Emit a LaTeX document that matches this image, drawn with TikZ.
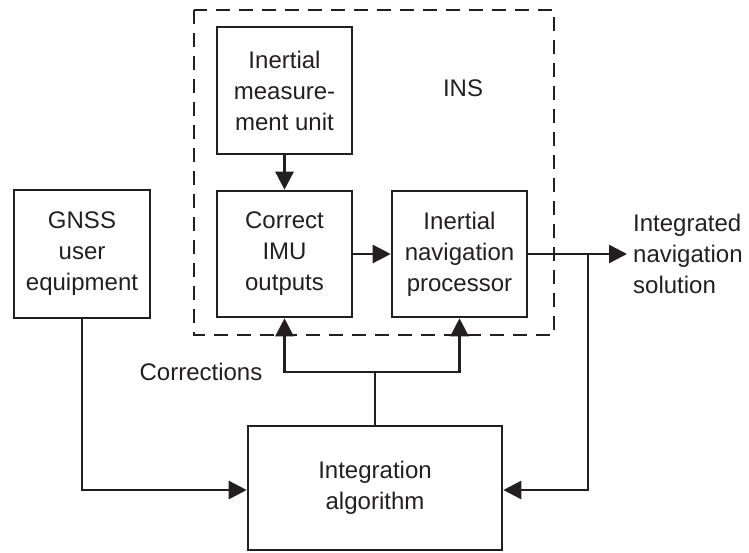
\documentclass[tikz,border=0pt]{standalone}
\usepackage{fontspec}
\setmainfont{Liberation Sans}
\usetikzlibrary{arrows.meta}
\definecolor{ink}{HTML}{231F20}
\begin{document}
\begin{tikzpicture}[x=1pt,y=-1pt,
  every node/.style={text=ink,font=\fontsize{24}{31}\selectfont},
  blk/.style={draw=ink,line width=2.6pt,inner sep=0pt,align=center},
  conn/.style={draw=ink,line width=2.6pt},
  arr/.style={conn,-{Triangle[length=18pt,width=18pt]}}]
\useasboundingbox (0,0) rectangle (749,552);
% dashed INS box
\draw[ink,line width=2.2pt,dash pattern=on 14pt off 9pt] (194,10) rectangle (554,335);
\node (ins) at (463,88) {INS};
% blocks
\node[blk,minimum width=135pt,minimum height=127pt] (imu) at (284.5,90.5) {Inertial\\measure-\\ment unit};
\node[blk,minimum width=135pt,minimum height=126pt] (cor) at (284.5,254) {Correct\\IMU\\outputs};
\node[blk,minimum width=135pt,minimum height=126pt] (inp) at (459.5,254) {Inertial\\navigation\\processor};
\node[blk,minimum width=136pt,minimum height=128pt] (gnss) at (82,254) {GNSS\\user\\equipment};
\node[blk,minimum width=254pt,minimum height=124pt] (alg) at (375,488) {Integration\\algorithm};
\node[align=left,anchor=west,inner sep=0pt] (out) at (633,254) {Integrated\\navigation\\solution};
\node (corr) at (201,372) {Corrections};
% connectors
\draw[arr] (imu.south) -- (cor.north);
\draw[arr] (cor.east) -- (inp.west);
\coordinate (jr) at (588,254);
\draw[arr] (inp.east) -- ([xshift=-6pt]out.west);
\draw[arr] (jr) |- (alg.east |- 0,490);
\draw[arr] (gnss.south) |- (alg.west |- 0,490);
\coordinate (jc) at (375,372);
\draw[conn] (alg.north) -- (jc);
\draw[arr] (jc) -| (cor.south);
\draw[arr] (jc) -| (inp.south);
\end{tikzpicture}
\end{document}
